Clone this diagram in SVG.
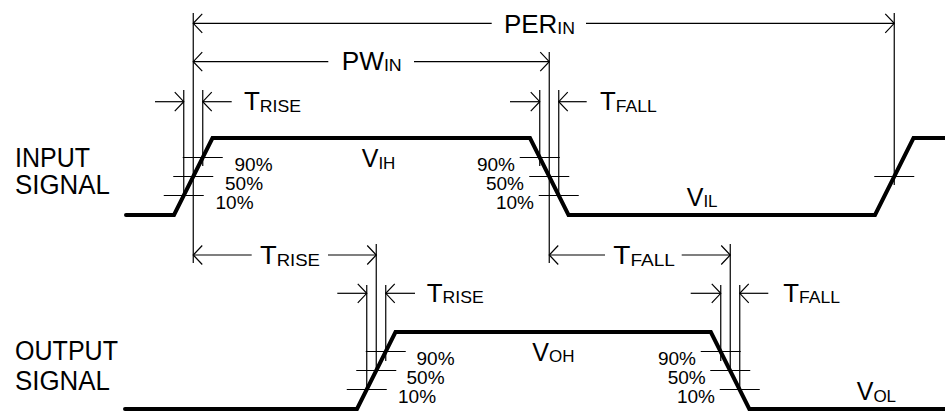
<svg xmlns="http://www.w3.org/2000/svg" width="945" height="411" viewBox="0 0 945 411">
<style>
.wave{fill:none;stroke:#000;stroke-width:4;stroke-linejoin:miter;stroke-linecap:round}
.thin{fill:none;stroke:#000;stroke-width:1.2}
.dim{fill:none;stroke:#000;stroke-width:1.2;marker-end:url(#ah)}
text{font-family:"Liberation Sans",Arial,sans-serif;fill:#000}
.big{font-size:25px}
.sub{font-size:17px}
.pct{font-size:19px}
.sig{font-size:27px}
</style>
<defs>
<marker id="ah" markerUnits="userSpaceOnUse" markerWidth="24" markerHeight="24" viewBox="-12 -12 24 24" refX="0" refY="0" orient="auto" overflow="visible">
<path d="M -9,-9.5 L 0,0 L -9,9.5" fill="none" stroke="#000" stroke-width="1.2"/>
</marker>
</defs>

<g id="signal-labels">
<text class="sig" x="15" y="167" textLength="75" lengthAdjust="spacingAndGlyphs">INPUT</text>
<text class="sig" x="15" y="193.5" textLength="95" lengthAdjust="spacingAndGlyphs">SIGNAL</text>
<text class="sig" x="15" y="360" textLength="103" lengthAdjust="spacingAndGlyphs">OUTPUT</text>
<text class="sig" x="15" y="390" textLength="95" lengthAdjust="spacingAndGlyphs">SIGNAL</text>
</g>

<g id="input-waveform">
<polyline class="wave" points="126,215 174,215 212.5,138 530,138 568.5,215 875,215 913.5,138 947,138"/>
</g>
<g id="output-waveform">
<polyline class="wave" points="125,409 357,409 395.5,332 710.8,332 749.3,409 947,409"/>
</g>

<g id="ticks">
<!-- input rise -->
<line class="thin" x1="182.75" y1="157.5" x2="222.75" y2="157.5"/>
<line class="thin" x1="173.25" y1="176.5" x2="213.25" y2="176.5"/>
<line class="thin" x1="163.75" y1="195.5" x2="203.75" y2="195.5"/>
<!-- input fall -->
<line class="thin" x1="519.75" y1="157.5" x2="559.75" y2="157.5"/>
<line class="thin" x1="529.25" y1="176.5" x2="569.25" y2="176.5"/>
<line class="thin" x1="538.75" y1="195.5" x2="578.75" y2="195.5"/>
<!-- input rise 2 -->
<line class="thin" x1="874.25" y1="176.5" x2="914.25" y2="176.5"/>
<!-- output rise -->
<line class="thin" x1="365.75" y1="351.5" x2="405.75" y2="351.5"/>
<line class="thin" x1="356.25" y1="370.5" x2="396.25" y2="370.5"/>
<line class="thin" x1="346.75" y1="389.5" x2="386.75" y2="389.5"/>
<!-- output fall -->
<line class="thin" x1="700.75" y1="351.5" x2="740.75" y2="351.5"/>
<line class="thin" x1="710.25" y1="370.5" x2="750.25" y2="370.5"/>
<line class="thin" x1="719.75" y1="389.5" x2="759.75" y2="389.5"/>
</g>

<g id="extension-lines">
<line class="thin" x1="193.25" y1="13" x2="193.25" y2="263"/>
<line class="thin" x1="183.75" y1="90" x2="183.75" y2="197"/>
<line class="thin" x1="202.75" y1="90" x2="202.75" y2="166"/>
<line class="thin" x1="549.25" y1="52" x2="549.25" y2="263"/>
<line class="thin" x1="539.75" y1="90" x2="539.75" y2="166"/>
<line class="thin" x1="558.75" y1="90" x2="558.75" y2="197"/>
<line class="thin" x1="894.25" y1="13" x2="894.25" y2="185"/>
<line class="thin" x1="376.25" y1="244" x2="376.25" y2="372"/>
<line class="thin" x1="366.75" y1="285" x2="366.75" y2="391"/>
<line class="thin" x1="385.75" y1="285" x2="385.75" y2="361"/>
<line class="thin" x1="730.25" y1="244" x2="730.25" y2="372"/>
<line class="thin" x1="720.75" y1="285" x2="720.75" y2="361"/>
<line class="thin" x1="739.75" y1="285" x2="739.75" y2="391"/>
</g>

<g id="connectors">
<!-- PER_IN -->
<line class="dim" x1="491.7" y1="23.3" x2="193.25" y2="23.3"/>
<line class="dim" x1="586" y1="23.3" x2="894.25" y2="23.3"/>
<!-- PW_IN -->
<line class="dim" x1="328.3" y1="61.7" x2="193.25" y2="61.7"/>
<line class="dim" x1="414" y1="61.7" x2="549.25" y2="61.7"/>
<!-- input T_RISE -->
<line class="dim" x1="155" y1="101.7" x2="183.75" y2="101.7"/>
<line class="dim" x1="231.7" y1="101.7" x2="202.75" y2="101.7"/>
<!-- input T_FALL -->
<line class="dim" x1="510" y1="101.7" x2="539.75" y2="101.7"/>
<line class="dim" x1="586.7" y1="101.7" x2="558.75" y2="101.7"/>
<!-- delay T_RISE -->
<line class="dim" x1="251.7" y1="255" x2="193.25" y2="255"/>
<line class="dim" x1="328" y1="255" x2="376.25" y2="255"/>
<!-- delay T_FALL -->
<line class="dim" x1="605" y1="255" x2="549.25" y2="255"/>
<line class="dim" x1="681.7" y1="255" x2="730.25" y2="255"/>
<!-- output T_RISE -->
<line class="dim" x1="337.3" y1="293.3" x2="366.75" y2="293.3"/>
<line class="dim" x1="415" y1="293.3" x2="385.75" y2="293.3"/>
<!-- output T_FALL -->
<line class="dim" x1="690.7" y1="293.3" x2="720.75" y2="293.3"/>
<line class="dim" x1="768.3" y1="293.3" x2="739.75" y2="293.3"/>
</g>

<g id="dimension-labels">
<text x="504" y="32.5" textLength="71" lengthAdjust="spacingAndGlyphs"><tspan class="big">PER</tspan><tspan class="sub" dy="1.5">IN</tspan></text>
<text x="341.7" y="69.5" textLength="60" lengthAdjust="spacingAndGlyphs"><tspan class="big">PW</tspan><tspan class="sub" dy="1.5">IN</tspan></text>
<text x="244" y="110" textLength="57" lengthAdjust="spacingAndGlyphs"><tspan class="big">T</tspan><tspan class="sub" dy="1.5">RISE</tspan></text>
<text x="600" y="110" textLength="56.7" lengthAdjust="spacingAndGlyphs"><tspan class="big">T</tspan><tspan class="sub" dy="1.5">FALL</tspan></text>
<text x="260" y="264" textLength="60" lengthAdjust="spacingAndGlyphs"><tspan class="big">T</tspan><tspan class="sub" dy="1.5">RISE</tspan></text>
<text x="613.3" y="264" textLength="61.7" lengthAdjust="spacingAndGlyphs"><tspan class="big">T</tspan><tspan class="sub" dy="1.5">FALL</tspan></text>
<text x="426.7" y="301.6" textLength="57" lengthAdjust="spacingAndGlyphs"><tspan class="big">T</tspan><tspan class="sub" dy="1.5">RISE</tspan></text>
<text x="783.3" y="301.6" textLength="56.7" lengthAdjust="spacingAndGlyphs"><tspan class="big">T</tspan><tspan class="sub" dy="1.5">FALL</tspan></text>
</g>

<g id="level-labels">
<text x="361.7" y="167"><tspan class="big">V</tspan><tspan class="sub" dy="1.5">IH</tspan></text>
<text x="686.7" y="205.5"><tspan class="big">V</tspan><tspan class="sub" dy="1.5">IL</tspan></text>
<text x="532.3" y="360.7"><tspan class="big">V</tspan><tspan class="sub" dy="1.5">OH</tspan></text>
<text x="856.7" y="400"><tspan class="big">V</tspan><tspan class="sub" dy="1.5">OL</tspan></text>
</g>

<g id="percent-labels">
<text class="pct" x="234.5" y="170.7">90%</text>
<text class="pct" x="225" y="189.7">50%</text>
<text class="pct" x="215.5" y="208.7">10%</text>
<text class="pct" x="515" y="170.7" text-anchor="end">90%</text>
<text class="pct" x="524" y="189.7" text-anchor="end">50%</text>
<text class="pct" x="534" y="208.7" text-anchor="end">10%</text>
<text class="pct" x="416.5" y="364.7">90%</text>
<text class="pct" x="406.5" y="383.7">50%</text>
<text class="pct" x="398" y="402.7">10%</text>
<text class="pct" x="696" y="364.7" text-anchor="end">90%</text>
<text class="pct" x="705.7" y="383.7" text-anchor="end">50%</text>
<text class="pct" x="715" y="402.7" text-anchor="end">10%</text>
</g>
</svg>
